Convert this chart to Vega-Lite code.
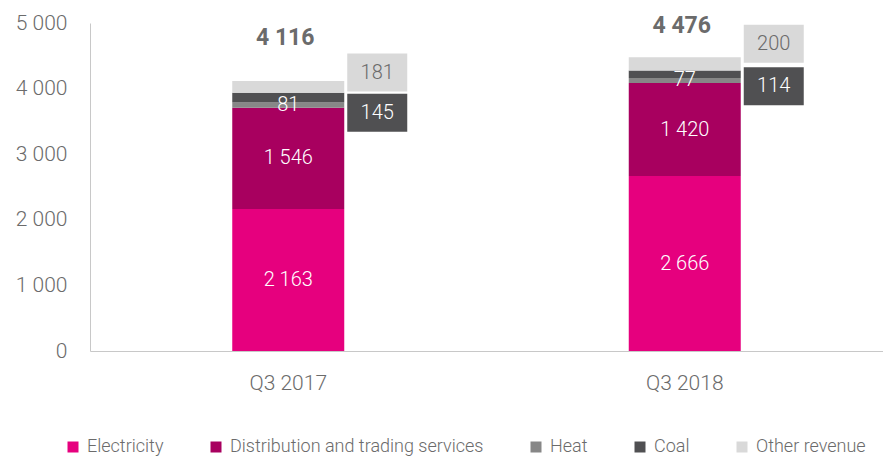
{
  "$schema": "https://vega.github.io/schema/vega-lite/v6.json",
  "width": 793,
  "height": 328,
  "autosize": "none",
  "padding": {"left": 90, "top": 23, "right": 0, "bottom": 107},
  "config": {
    "locale": {"number": {"decimal": ",", "thousands": " ", "grouping": [3], "currency": ["", ""]}},
    "view": {"stroke": null},
    "font": "Roboto"
  },
  "datasets": {
    "rev": [
      {"quarter": "Q3 2017", "category": "Electricity", "value": 2163, "ord": 1, "labelY": null},
      {"quarter": "Q3 2017", "category": "Distribution and trading services", "value": 1546, "ord": 2, "labelY": null},
      {"quarter": "Q3 2017", "category": "Heat", "value": 81, "ord": 3, "labelY": null},
      {"quarter": "Q3 2017", "category": "Coal", "value": 145, "ord": 4, "labelY": 3631},
      {"quarter": "Q3 2017", "category": "Other revenue", "value": 181, "ord": 5, "labelY": 4245},
      {"quarter": "Q3 2018", "category": "Electricity", "value": 2666, "ord": 1, "labelY": null},
      {"quarter": "Q3 2018", "category": "Distribution and trading services", "value": 1420, "ord": 2, "labelY": null},
      {"quarter": "Q3 2018", "category": "Heat", "value": 77, "ord": 3, "labelY": null},
      {"quarter": "Q3 2018", "category": "Coal", "value": 114, "ord": 4, "labelY": 4037},
      {"quarter": "Q3 2018", "category": "Other revenue", "value": 200, "ord": 5, "labelY": 4683}
    ],
    "totals": [
      {"quarter": "Q3 2017", "total": 4116, "labelY": 4771},
      {"quarter": "Q3 2018", "total": 4476, "labelY": 4954}
    ]
  },
  "data": {"name": "rev"},
  "encoding": {
    "x": {
      "field": "quarter",
      "type": "nominal",
      "scale": {"paddingInner": 0, "paddingOuter": 0},
      "axis": {
        "title": null,
        "labelAngle": 0,
        "ticks": false,
        "domainColor": "#c8c8c8",
        "labelFontSize": 21,
        "labelColor": "#6b6b6b",
        "labelFont": "Roboto",
        "labelFontWeight": 300,
        "labelPadding": 21
      }
    }
  },
  "layer": [
    {
      "mark": {"type": "bar", "width": 112},
      "encoding": {
        "y": {
          "field": "value",
          "type": "quantitative",
          "stack": "zero",
          "scale": {"domain": [0, 5000], "nice": false},
          "axis": {
            "title": null,
            "values": [0, 1000, 2000, 3000, 4000, 5000],
            "format": ",d",
            "ticks": false,
            "grid": false,
            "domainColor": "#c8c8c8",
            "labelFontSize": 21,
            "labelColor": "#6b6b6b",
            "labelFont": "Roboto",
            "labelFontWeight": 300,
            "labelPadding": 23
          }
        },
        "color": {
          "field": "category",
          "type": "nominal",
          "scale": {
            "domain": ["Electricity", "Distribution and trading services", "Heat", "Coal", "Other revenue"],
            "range": ["#E6007E", "#A8005F", "#878787", "#505052", "#D9D9D9"]
          },
          "legend": {
            "title": null,
            "orient": "none",
            "direction": "horizontal",
            "legendX": -26,
            "legendY": 415,
            "symbolType": "square",
            "symbolSize": 121,
            "symbolStrokeWidth": 0,
            "labelFontSize": 18,
            "labelFont": "Roboto",
            "labelFontWeight": 300,
            "labelColor": "#6b6b6b",
            "labelLimit": 400,
            "labelOffset": 5,
            "columnPadding": 43
          }
        },
        "order": {"field": "ord", "type": "quantitative"}
      }
    },
    {
      "transform": [
        {"stack": "value", "groupby": ["quarter"], "sort": [{"field": "ord"}], "as": ["v0", "v1"]},
        {"filter": "datum.ord <= 3"},
        {"calculate": "(datum.v0 + datum.v1) / 2", "as": "mid"}
      ],
      "mark": {"type": "text", "color": "white", "fontSize": 20, "font": "Roboto", "fontWeight": 300, "baseline": "middle"},
      "encoding": {
        "y": {"field": "mid", "type": "quantitative"},
        "text": {"field": "value", "type": "quantitative", "format": ",d"}
      }
    },
    {
      "transform": [{"filter": "datum.labelY != null"}],
      "mark": {
        "type": "point",
        "filled": true,
        "opacity": 1,
        "strokeWidth": 0,
        "shape": "M-1,-0.633L1,-0.633L1,0.633L-1,0.633Z",
        "size": 3600,
        "xOffset": 89
      },
      "encoding": {
        "y": {"field": "labelY", "type": "quantitative"},
        "color": {"field": "category", "type": "nominal"}
      }
    },
    {
      "transform": [{"filter": "datum.labelY != null"}],
      "mark": {"type": "text", "fontSize": 20, "font": "Roboto", "fontWeight": 300, "baseline": "middle", "dx": 89},
      "encoding": {
        "y": {"field": "labelY", "type": "quantitative"},
        "text": {"field": "value", "type": "quantitative", "format": ",d"},
        "color": {"condition": {"test": "datum.category === 'Coal'", "value": "white"}, "value": "#6b6b6b"}
      }
    },
    {
      "data": {"name": "totals"},
      "mark": {"type": "text", "fontSize": 23, "font": "Roboto", "fontWeight": "bold", "baseline": "middle", "color": "#6b6b6b", "dx": -3},
      "encoding": {
        "y": {"field": "labelY", "type": "quantitative"},
        "text": {"field": "total", "type": "quantitative", "format": ",d"}
      }
    }
  ]
}
